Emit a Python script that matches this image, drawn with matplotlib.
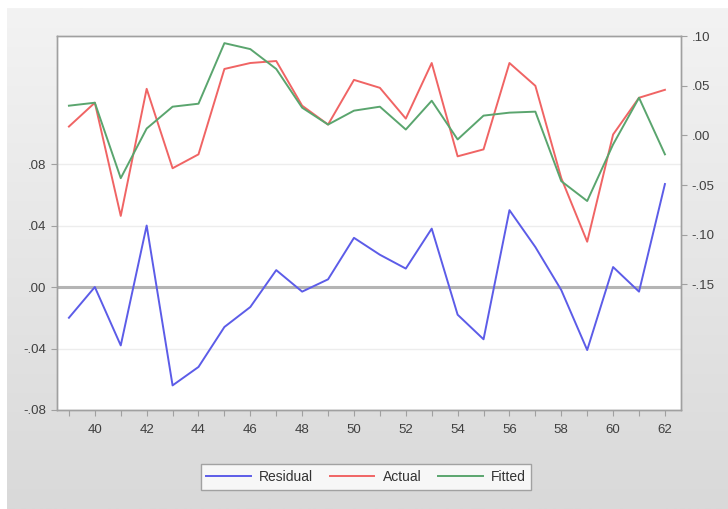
import numpy as np
import matplotlib
matplotlib.use("Agg")
import matplotlib.pyplot as plt
from matplotlib.ticker import FixedLocator, FuncFormatter

plt.rcParams.update({
    'font.family': ['Liberation Sans', 'DejaVu Sans'],
    'font.size': 9,
})

# Data
years = list(range(1939 - 1900, 1963 - 1900))  # 39..62
residual = [-0.020, 0.000, -0.038, 0.040, -0.064, -0.052, -0.026, -0.013,
            0.011, -0.003, 0.005, 0.032, 0.021, 0.012, 0.038, -0.018,
            -0.034, 0.050, 0.026, -0.002, -0.041, 0.013, -0.003, 0.067]
actual = [0.009, 0.033, -0.081, 0.047, -0.033, -0.019, 0.067, 0.073,
          0.075, 0.030, 0.011, 0.056, 0.048, 0.017, 0.073, -0.021,
          -0.014, 0.073, 0.050, -0.043, -0.107, 0.001, 0.038, 0.046]
fitted = [0.030, 0.033, -0.043, 0.007, 0.029, 0.032, 0.093, 0.087,
          0.067, 0.028, 0.011, 0.025, 0.029, 0.006, 0.035, -0.004,
          0.020, 0.023, 0.024, -0.046, -0.066, -0.009, 0.038, -0.019]
left_ticks = [-0.08, -0.04, 0.00, 0.04, 0.08]
right_ticks = [-0.15, -0.10, -0.05, 0.00, 0.05, 0.10]


def fmt(v, pos=None):
    s = f"{v:.2f}"
    if s.startswith("-0"):
        return "-" + s[2:]
    if s.startswith("0"):
        return s[1:]
    return s


W, H = 728, 509
fig = plt.figure(figsize=(W / 100, H / 100), dpi=100, facecolor='white')

# window background with a soft vertical gradient
bg = fig.add_axes([7 / W, 0, 1 - 7 / W, (H - 8) / H], zorder=-10)
grad = np.linspace(0, 1, 256).reshape(-1, 1)
bg.imshow(grad, aspect='auto', cmap=matplotlib.colors.LinearSegmentedColormap.from_list(
    'bg', ['#f3f3f3', '#d9d9d9']), extent=[0, 1, 0, 1], origin='upper')
bg.axis('off')

left, right, top, bottom = 57, 681, 36, 410
ax = fig.add_axes([left / W, (H - bottom) / H, (right - left) / W, (bottom - top) / H])
ax.set_facecolor('white')
ax2 = ax.twinx()

ax.set_xlim(38.54, 62.62)
ax.set_ylim(-0.080, 0.1633)
ax2.set_ylim(-0.2765, 0.1002)

# grid and zero line
for t in left_ticks:
    if t != 0:
        ax.axhline(t, color='#ededed', lw=1.0, zorder=0)
ax.axhline(0, color='#b4b4b4', lw=2.2, zorder=1)

l1, = ax.plot(years, residual, color='#5c5ce8', lw=1.4, label='Residual', zorder=3)
l2, = ax2.plot(years, actual, color='#f06464', lw=1.4, label='Actual', zorder=3)
l3, = ax2.plot(years, fitted, color='#5aa56e', lw=1.4, label='Fitted', zorder=4)

ax.xaxis.set_major_locator(FixedLocator(list(range(40, 63, 2))))
ax.xaxis.set_minor_locator(FixedLocator(list(range(39, 63, 2))))
ax.set_xticklabels([str(y) for y in range(40, 63, 2)])
ax.yaxis.set_major_locator(FixedLocator(left_ticks))
ax.yaxis.set_major_formatter(FuncFormatter(fmt))
ax2.yaxis.set_major_locator(FixedLocator(right_ticks))
ax2.yaxis.set_major_formatter(FuncFormatter(fmt))

for a in (ax, ax2):
    for sp in a.spines.values():
        sp.set_color('#a0a0a0')
        sp.set_linewidth(1.0)
    a.tick_params(which='both', direction='out', colors='#a0a0a0',
                  labelcolor='#404040', labelsize=9.5, length=4, width=0.8)
ax.tick_params(axis='x', pad=6)

fig.legend(handles=[l1, l2, l3], loc='center', ncol=3,
           bbox_to_anchor=(366 / W, (H - 477) / H),
           frameon=True, fancybox=False, edgecolor='#909090',
           fontsize=10, handlelength=3.2, columnspacing=1.2,
           handletextpad=0.6, borderpad=0.4, labelcolor='#333333')

fig.savefig('out.png', dpi=100, facecolor=fig.get_facecolor())
